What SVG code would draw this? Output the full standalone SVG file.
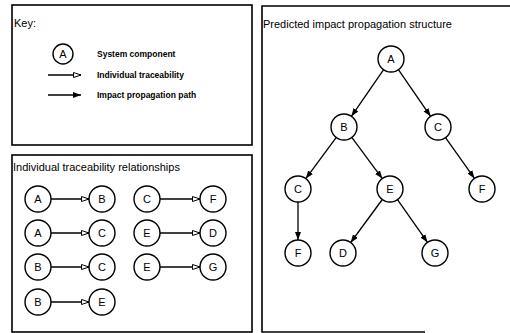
<svg xmlns="http://www.w3.org/2000/svg" width="510" height="333" viewBox="0 0 510 333">
<defs>
<style>
.box{fill:none;stroke:#000;stroke-width:1.6}
.nd circle{fill:#fff;stroke:#000;stroke-width:1.4}
.nd text{font-family:"Liberation Sans",Arial,sans-serif;font-size:11px;text-anchor:middle;dominant-baseline:central;fill:#000}
.t{font-family:"Liberation Sans",Arial,sans-serif;font-size:11px;fill:#000}
.k{font-family:"Liberation Sans",Arial,sans-serif;font-size:8.5px;font-weight:bold;fill:#000;dominant-baseline:central}
.tr{stroke:#000;stroke-width:1.3;fill:none;marker-end:url(#open)}
.pr{stroke:#000;stroke-width:1.3;fill:none;marker-end:url(#solid)}
</style>
<marker id="open" markerUnits="userSpaceOnUse" markerWidth="10" markerHeight="8" refX="8" refY="3" orient="auto">
<path d="M0.5,0.5 L8,3 L0.5,5.5 Z" fill="#fff" stroke="#000" stroke-width="1"/>
</marker>
<marker id="solid" markerUnits="userSpaceOnUse" markerWidth="10" markerHeight="8" refX="8" refY="3" orient="auto">
<path d="M0,0 L8,3 L0,6 Z" fill="#000"/>
</marker>
</defs>
<rect width="510" height="333" fill="#fff"/>

<!-- Key panel -->
<g id="key">
<rect class="box" x="12" y="5" width="240" height="140"/>
<text class="t" x="14" y="27">Key:</text>
<g class="nd" id="key-node"><circle cx="63" cy="54" r="10"/><text x="63" y="54">A</text></g>
<text class="k" x="97" y="54">System component</text>
<line class="tr" x1="48" y1="75" x2="81" y2="75"/>
<text class="k" x="97" y="75">Individual traceability</text>
<line class="pr" x1="48" y1="95" x2="81" y2="95"/>
<text class="k" x="97" y="95">Impact propagation path</text>
</g>

<!-- Individual traceability panel -->
<g id="trace-panel">
<rect class="box" x="12" y="155" width="240" height="177"/>
<text class="t" x="13" y="171">Individual traceability relationships</text>
</g>

<!-- Predicted impact panel -->
<g id="impact-panel">
<path class="box" d="M510,6 H262 V332 H425"/>
<text class="t" x="263" y="28">Predicted impact propagation structure</text>
</g>

<g id="connectors">
<line class="tr" x1="51" y1="199" x2="89" y2="199"/>
<line class="tr" x1="160" y1="199" x2="200" y2="199"/>
<line class="tr" x1="51" y1="233" x2="89" y2="233"/>
<line class="tr" x1="160" y1="233" x2="200" y2="233"/>
<line class="tr" x1="51" y1="267" x2="89" y2="267"/>
<line class="tr" x1="160" y1="267" x2="200" y2="267"/>
<line class="tr" x1="51" y1="302" x2="89" y2="302"/>
<line class="pr" x1="383.6" y1="69.7" x2="351.4" y2="116.3"/>
<line class="pr" x1="398.4" y1="69.7" x2="430.6" y2="116.3"/>
<line class="pr" x1="336.3" y1="137.4" x2="305.8" y2="178.6"/>
<line class="pr" x1="351.8" y1="137.4" x2="382.3" y2="178.6"/>
<line class="pr" x1="445.5" y1="137.6" x2="474.5" y2="178.4"/>
<line class="pr" x1="298" y1="202" x2="298" y2="240"/>
<line class="pr" x1="382.3" y1="199.5" x2="350.7" y2="242.5"/>
<line class="pr" x1="397.5" y1="199.6" x2="427.5" y2="242.4"/>
</g>

<!-- trace nodes -->
<g class="nd" id="t1a"><circle cx="38" cy="199" r="13"/><text x="38" y="199">A</text></g>
<g class="nd" id="t1b"><circle cx="102" cy="199" r="13"/><text x="102" y="199">B</text></g>
<g class="nd" id="t2a"><circle cx="38" cy="233" r="13"/><text x="38" y="233">A</text></g>
<g class="nd" id="t2c"><circle cx="102" cy="233" r="13"/><text x="102" y="233">C</text></g>
<g class="nd" id="t3b"><circle cx="38" cy="267" r="13"/><text x="38" y="267">B</text></g>
<g class="nd" id="t3c"><circle cx="102" cy="267" r="13"/><text x="102" y="267">C</text></g>
<g class="nd" id="t4b"><circle cx="38" cy="302" r="13"/><text x="38" y="302">B</text></g>
<g class="nd" id="t4e"><circle cx="102" cy="302" r="13"/><text x="102" y="302">E</text></g>
<g class="nd" id="t5c"><circle cx="147" cy="199" r="13"/><text x="147" y="199">C</text></g>
<g class="nd" id="t5f"><circle cx="213" cy="199" r="13"/><text x="213" y="199">F</text></g>
<g class="nd" id="t6e"><circle cx="147" cy="233" r="13"/><text x="147" y="233">E</text></g>
<g class="nd" id="t6d"><circle cx="213" cy="233" r="13"/><text x="213" y="233">D</text></g>
<g class="nd" id="t7e"><circle cx="147" cy="267" r="13"/><text x="147" y="267">E</text></g>
<g class="nd" id="t7g"><circle cx="213" cy="267" r="13"/><text x="213" y="267">G</text></g>

<!-- tree nodes -->
<g class="nd" id="pA"><circle cx="391" cy="59" r="13"/><text x="391" y="59">A</text></g>
<g class="nd" id="pB"><circle cx="344" cy="127" r="13"/><text x="344" y="127">B</text></g>
<g class="nd" id="pC"><circle cx="438" cy="127" r="13"/><text x="438" y="127">C</text></g>
<g class="nd" id="pC2"><circle cx="298" cy="189" r="13"/><text x="298" y="189">C</text></g>
<g class="nd" id="pE"><circle cx="390" cy="189" r="13"/><text x="390" y="189">E</text></g>
<g class="nd" id="pF1"><circle cx="482" cy="189" r="13"/><text x="482" y="189">F</text></g>
<g class="nd" id="pF2"><circle cx="298" cy="253" r="13"/><text x="298" y="253">F</text></g>
<g class="nd" id="pD"><circle cx="343" cy="253" r="13"/><text x="343" y="253">D</text></g>
<g class="nd" id="pG"><circle cx="435" cy="253" r="13"/><text x="435" y="253">G</text></g>
</svg>
